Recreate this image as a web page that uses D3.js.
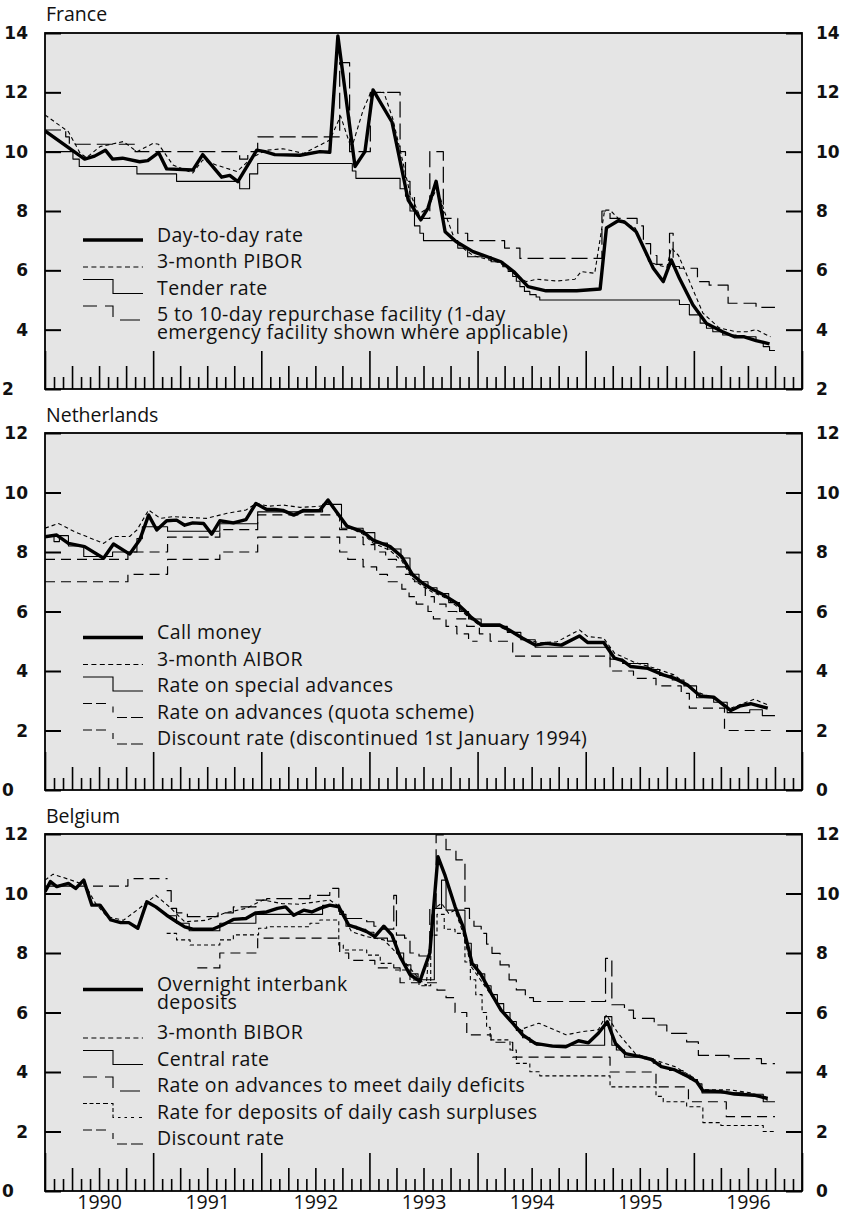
<!DOCTYPE html>
<html><head><meta charset="utf-8">
<script src="https://cdn.jsdelivr.net/npm/d3@7"></script>
<style>
body{margin:0;background:#fff;}
svg{display:block;}
text{font-family:"Open Sans",Lato,sans-serif;fill:#111;}
.tick-lab{font-family:"DejaVu Sans",sans-serif;font-weight:bold;}
.leg{letter-spacing:0.4px;}
</style>
</head><body>
<svg id="c" width="846" height="1219"></svg>
<script>
// ---------- DATA (month index from Jan 1990, value in %) ----------
const yearLabels = ["1990","1991","1992","1993","1994","1995","1996"];
const frYTicks = [2,4,6,8,10,12,14];
const nlYTicks = [0,2,4,6,8,10,12];
const beYTicks = [0,2,4,6,8,10,12];

// France
const frDay = [[0,10.7],[4.4,9.75],[5.5,9.85],[6.7,10.05],[7.5,9.75],[8.6,9.78],[10.5,9.66],[11.4,9.7],[12.6,9.97],[13.5,9.42],[16.4,9.38],[17.5,9.9],[19.6,9.14],[20.5,9.2],[21.4,8.99],[23.5,10.05],[24.4,10.0],[25.5,9.9],[28.3,9.88],[30.5,10.0],[31.6,9.98],[32.5,13.9],[34.4,9.5],[35.5,10.0],[36.4,12.08],[38.5,11.0],[40.3,8.37],[41.7,7.7],[42.5,8.1],[43.4,9.0],[44.4,7.3],[45.6,6.97],[47.5,6.63],[50.6,6.29],[52,5.96],[53.6,5.45],[55.6,5.31],[59,5.31],[61.6,5.37],[62.3,7.43],[63.6,7.67],[64.3,7.63],[65.6,7.3],[67.5,6.07],[68.6,5.62],[69.5,6.35],[70.4,5.73],[71.9,4.83],[73.4,4.21],[75.2,3.93],[76.5,3.76],[77.6,3.76],[78.9,3.63],[80.4,3.52]];
const frPibor = [[0,11.24],[2.6,10.67],[3.9,9.95],[4.6,9.8],[6.1,10.17],[8.7,10.34],[10.2,10.0],[12,10.28],[12.6,10.25],[14.2,9.55],[16.4,9.28],[17.5,9.72],[19,9.55],[21.3,9.33],[23.1,9.83],[24.6,10.05],[26.4,10.1],[28.7,9.94],[31.6,10.39],[32.8,11.2],[34.0,10.1],[35.3,11.4],[36.1,11.97],[37.6,12.0],[38.6,11.1],[39.6,9.8],[40.5,8.6],[41.5,7.9],[42.5,8.1],[43.5,8.8],[44.3,8.0],[45.6,6.92],[47.5,6.5],[50.5,6.25],[52,5.9],[53.4,5.62],[54.6,5.7],[56.8,5.64],[58.8,5.7],[59.5,5.96],[61,5.9],[62.1,8.03],[62.7,8.03],[64,7.63],[65.5,7.43],[67,6.3],[67.9,6.19],[69,6.1],[69.5,6.75],[70.3,6.5],[71.6,5.57],[73,4.56],[74.8,4.06],[76.7,3.93],[77.9,3.93],[78.9,4.0],[80.5,3.76]];
const frTender = [[0,10.0],[3.1,9.75],[3.8,9.5],[10.2,9.25],[14.6,9.0],[21.6,8.75],[22.7,9.25],[23.6,9.6],[34.1,9.35],[34.5,9.1],[39.4,8.75],[40.0,8.5],[40.5,8.0],[41.0,7.5],[41.6,7.25],[42.0,7.0],[45.8,6.75],[46.9,6.46],[49.5,6.29],[50.8,6.12],[51.4,5.96],[51.9,5.79],[52.3,5.63],[52.7,5.45],[53.2,5.29],[53.8,5.18],[54.5,5.1],[54.9,5.0],[70.4,4.85],[71.5,4.5],[72.7,4.22],[73.4,4.05],[74.1,3.93],[75.2,3.82],[76.7,3.76],[78.9,3.6],[79.7,3.43],[80.4,3.3],[81,3.3]];
const frRepo = [[0,10.73],[2.3,10.5],[2.7,10.25],[10.0,10.0],[21.6,9.75],[22.5,10.0],[23.6,10.5],[32.7,13.0],[33.8,10.0],[36.1,12.0],[39.4,10.0],[40.0,9.0],[40.5,8.5],[41.0,8.0],[41.5,7.75],[42.7,10.0],[44.2,7.75],[45.8,7.25],[46.9,7.0],[51.0,6.75],[52.7,6.4],[61.8,8.0],[62.7,7.75],[65.7,7.5],[66.4,6.9],[67.2,6.5],[67.9,6.2],[69.3,7.25],[69.7,6.13],[70.4,6.07],[72.4,5.62],[73.7,5.5],[75.8,4.89],[78.9,4.75],[81,4.75]];

// Netherlands
const nlCall = [[0,8.51],[1.3,8.57],[2.6,8.29],[4.4,8.18],[6.5,7.79],[7.6,8.27],[9.4,7.93],[10.5,8.4],[11.5,9.24],[12.4,8.74],[13.5,9.05],[14.6,9.07],[15.5,8.9],[16.4,8.98],[17.6,8.96],[18.5,8.6],[19.4,9.05],[20.9,8.98],[22.3,9.09],[23.4,9.63],[24.6,9.43],[25.5,9.43],[26.4,9.4],[27.6,9.24],[28.7,9.4],[29.6,9.39],[30.5,9.4],[31.4,9.75],[32.6,9.24],[33.5,8.87],[35.3,8.68],[36.4,8.4],[38.3,8.18],[39.6,7.84],[40.8,7.23],[41.9,6.95],[43,6.75],[44,6.6],[45.6,6.3],[46.5,6.05],[47.3,5.8],[48.4,5.55],[50.4,5.55],[51.5,5.38],[53,5.1],[54.4,4.87],[55.6,4.93],[57.3,4.87],[59.3,5.18],[60.2,4.96],[62,4.96],[63.2,4.43],[64.1,4.35],[65,4.15],[66.9,4.09],[68.6,3.87],[69.8,3.76],[71.3,3.53],[72.7,3.16],[74.2,3.12],[76.1,2.67],[77.2,2.83],[78.3,2.9],[80.2,2.75]];
const nlAibor = [[0,8.8],[1.5,8.96],[3.3,8.68],[6.5,8.29],[7.6,8.52],[9.4,8.52],[10.2,8.74],[11.5,9.41],[12.8,9.13],[14.2,9.19],[17.9,9.13],[20.2,9.3],[22.3,9.41],[23.4,9.63],[24.9,9.54],[26.4,9.58],[28.3,9.5],[30.5,9.54],[31.6,9.63],[32.6,9.2],[33.5,8.85],[35.3,8.6],[36.4,8.3],[38.3,8.05],[39.6,7.7],[40.8,7.1],[41.9,6.85],[43,6.65],[44.5,6.45],[45.6,6.2],[47,5.8],[48.4,5.5],[50.4,5.5],[52,5.25],[53.5,5.05],[54.8,4.95],[56.8,4.98],[59.3,5.38],[60.2,5.16],[62,5.1],[63.2,4.6],[65.4,4.29],[67.6,4.1],[69.8,3.87],[72.3,3.3],[74.2,3.08],[76.1,2.75],[78.7,3.05],[80.2,2.86]];
const nlSpecial = [[0,8.55],[1.0,8.35],[1.6,8.55],[2.6,8.2],[4.3,7.85],[7.5,8.0],[10.2,8.45],[10.8,8.85],[13.6,8.7],[19.4,8.95],[23.6,9.35],[30.8,9.6],[32.9,8.8],[35.3,8.65],[36.6,8.3],[38.0,8.1],[39.5,7.8],[40.5,7.25],[41.5,7.0],[42.5,6.8],[43.5,6.6],[44.8,6.3],[46.0,6.0],[47.0,5.75],[48.4,5.5],[51.3,5.3],[52.8,5.05],[54.4,4.8],[62.7,4.4],[64.1,4.25],[66.9,4.05],[68.2,3.85],[69.6,3.7],[70.9,3.5],[72.3,3.1],[74.2,2.95],[75.7,2.6],[78.2,2.7],[79.6,2.5],[81,2.5]];
const nlQuota = [[0,7.75],[9.2,8.0],[13.6,8.5],[19.4,8.75],[23.6,9.25],[32.7,8.75],[33.5,8.5],[35.3,8.25],[36.6,8.0],[37.8,7.75],[39.0,7.5],[40.0,7.25],[41.0,7.0],[42.2,6.5],[43.2,6.25],[44.5,6.0],[45.7,5.75],[46.8,5.5],[48.2,5.25],[49.4,5.0],[51.9,4.5],[62.7,4.0],[65.3,3.75],[67.8,3.5],[70.6,3.25],[71.5,2.75],[75.4,2.0],[81,2.0]];
const nlDiscount = [[0,7.0],[9.2,7.25],[13.6,7.75],[19.4,8.0],[23.6,8.5],[32.7,8.0],[33.6,7.75],[35.3,7.5],[36.8,7.25],[38.0,7.0],[39.6,6.75],[40.4,6.5],[41.2,6.25],[42.5,6.0],[43.1,5.75],[44.5,5.5],[45.7,5.25],[47.0,5.0],[48.0,5.0]];

// Belgium
const beOvernight = [[0,10.06],[0.6,10.4],[1.3,10.23],[2.6,10.34],[3.4,10.17],[4.3,10.45],[5.2,9.61],[6.1,9.61],[7.3,9.11],[8.4,9.02],[9.3,9.02],[10.3,8.83],[11.3,9.72],[12.3,9.55],[13.5,9.27],[14.6,9.05],[15.5,8.88],[16.4,8.8],[18.6,8.8],[19.7,8.94],[20.9,9.13],[22.3,9.16],[23.4,9.35],[24.6,9.38],[25.8,9.5],[26.7,9.55],[27.6,9.27],[28.7,9.44],[29.6,9.38],[30.5,9.5],[31.6,9.61],[32.6,9.55],[33.7,8.94],[34.8,8.83],[35.7,8.72],[36.6,8.55],[37.6,8.9],[38.5,8.6],[39.4,7.88],[40.5,7.27],[41.6,7.05],[42.0,7.4],[42.7,8.0],[43.6,11.24],[44.4,10.6],[45.5,9.56],[46.4,8.88],[47.4,7.65],[48.3,7.32],[49.5,6.65],[50.6,6.08],[51.9,5.64],[53,5.25],[54.4,4.96],[56.3,4.87],[57.8,4.85],[59.2,5.05],[60.3,4.98],[61.4,5.3],[62.4,5.69],[63.3,4.96],[64.4,4.62],[66.2,4.51],[67.3,4.42],[68.4,4.18],[69.9,4.07],[71.4,3.84],[72.3,3.68],[73,3.37],[75,3.34],[76.5,3.26],[78.7,3.22],[80.2,3.11]];
const beBibor = [[0,10.45],[0.9,10.65],[2.4,10.5],[4.5,10.28],[5.6,9.67],[6.9,9.22],[8.7,9.1],[10.2,9.44],[12.3,9.94],[13.8,9.55],[15.5,9.05],[17.9,9.1],[20,9.35],[22.3,9.5],[24.2,9.78],[26.3,9.66],[28.2,9.64],[31.6,9.78],[32.5,9.6],[34,8.72],[35.7,8.55],[37.6,8.44],[39.4,7.88],[41.6,7.1],[42.3,6.9],[43,9.45],[44,9.67],[44.8,9.33],[45.5,9.44],[46.4,8.66],[47.3,7.54],[49.1,6.76],[50.6,6.1],[52.7,5.42],[54.8,5.64],[57.8,5.25],[59.7,5.36],[61.4,5.42],[62.3,5.92],[63.6,5.3],[65.5,4.62],[67.7,4.4],[69.9,4.18],[72.1,3.79],[73.1,3.4],[76,3.4],[78.3,3.3],[80.2,3.05]];
const beCentral = [[13.5,9.25],[14.6,9.0],[16.0,8.75],[19.4,9.0],[23.4,9.3],[30.8,9.6],[32.7,9.3],[33.4,8.9],[34.6,8.8],[35.6,8.7],[36.5,8.5],[38.0,8.4],[39.0,8.0],[39.8,7.6],[40.6,7.3],[41.4,7.1],[43.2,9.5],[44.0,10.45],[44.5,9.44],[46.6,8.33],[47.3,7.6],[48.0,7.3],[48.8,6.9],[49.5,6.6],[50.2,6.3],[50.9,6.0],[51.6,5.7],[52.3,5.4],[53.0,5.15],[53.8,5.0],[54.5,4.9],[62.1,5.86],[62.9,4.9],[63.4,4.74],[64.3,4.5],[66.5,4.45],[67.5,4.3],[68.3,4.15],[69.3,4.05],[70.8,3.9],[71.6,3.75],[72.4,3.6],[72.9,3.3],[77.5,3.25],[79.7,3.0],[81,3.0]];
const beAdvances = [[13.5,10.1],[14.0,9.5],[14.6,9.35],[15.8,9.22],[19.2,9.35],[20.9,9.55],[23.4,9.78],[24.6,9.83],[29.4,9.94],[31.6,10.17],[32.6,9.4],[33.1,9.16],[35.7,9.05],[36.5,8.9],[37.5,8.8],[38.7,9.94],[39.0,8.6],[39.9,8.5],[40.5,8.0],[41.5,7.9],[42.7,9.5],[43.4,11.97],[44.5,11.47],[45.6,11.13],[46.6,9.5],[47.1,9.16],[47.6,8.9],[48.4,8.66],[49.0,8.3],[49.6,7.99],[50.5,7.6],[51.5,7.1],[52.3,6.76],[53.3,6.5],[54.2,6.37],[62.2,7.82],[62.9,6.26],[64.3,6.08],[65.3,5.8],[67.6,5.58],[69.0,5.3],[71.2,5.01],[72.5,4.56],[75.9,4.45],[79.5,4.28],[81,4.28]];
const beDeposits = [[13.5,8.66],[14.6,8.44],[16.1,8.27],[19.4,8.44],[20.9,8.61],[23.7,8.83],[24.6,8.88],[29.4,9.0],[30.5,9.11],[32.6,8.27],[33.1,8.1],[35.7,7.93],[37.2,7.65],[38.7,7.43],[40.5,7.09],[41.5,6.9],[42.8,8.6],[43.5,9.3],[44.3,8.8],[45.5,8.66],[46.6,7.7],[47.2,7.1],[47.8,6.6],[48.5,6.0],[49.0,5.5],[49.4,5.08],[51.6,4.74],[52.3,4.29],[53.8,4.01],[54.9,3.87],[62.7,3.5],[67.8,3.18],[68.6,3.0],[71.2,2.83],[73.0,2.3],[75.0,2.2],[79.7,2.0],[81,2.0]];
const beDiscount = [[0,10.25],[9.2,10.5],[13.6,10.5],[13.6,null],[16.9,7.5],[19.4,8.0],[23.6,8.5],[32.7,8.0],[33.7,7.75],[36.6,7.5],[39.4,7.0],[43.5,6.75],[44.5,6.5],[45.5,6.0],[46.8,5.25],[49.5,5.0],[51.9,4.5],[62.7,4.0],[67.8,3.5],[71.4,3.0],[75.6,2.5],[81,2.5]];

// ---------- STYLES ----------
const STY = {
  thick: {w:3.4, dash:null, curve:d3.curveLinear},
  fine:  {w:1.1, dash:"4,3", curve:d3.curveLinear},
  solidStep: {w:1.1, dash:null, curve:d3.curveStepAfter},
  longStep: {w:1.2, dash:"16,6", curve:d3.curveStepAfter},
  medStep: {w:1.2, dash:"10,6", curve:d3.curveStepAfter},
  shortStep: {w:1.1, dash:"4,3", curve:d3.curveStepAfter}
};

const panels = [
  {title:"France", titleY:21, top:33, bottom:389, dom:[2,14], ticks:frYTicks,
   series:[[frRepo,"longStep"],[frTender,"solidStep"],[frPibor,"fine"],[frDay,"thick"]],
   legend:[
     {sty:"thick", lines:["Day-to-day rate"], b:241.5},
     {sty:"fine", lines:["3-month PIBOR"], b:268},
     {sty:"solidStep", lines:["Tender rate"], b:294.5},
     {sty:"longStep", lines:["5 to 10-day repurchase facility (1-day","emergency facility shown where applicable)"], b:321}
   ]},
  {title:"Netherlands", titleY:422, top:433, bottom:790, dom:[0,12], ticks:nlYTicks,
   series:[[nlDiscount,"medStep"],[nlQuota,"medStep"],[nlSpecial,"solidStep"],[nlAibor,"fine"],[nlCall,"thick"]],
   legend:[
     {sty:"thick", lines:["Call money"], b:639},
     {sty:"fine", lines:["3-month AIBOR"], b:665.5},
     {sty:"solidStep", lines:["Rate on special advances"], b:692},
     {sty:"medStep", lines:["Rate on advances (quota scheme)"], b:718.5},
     {sty:"medStep", lines:["Discount rate (discontinued 1st January 1994)"], b:745}
   ]},
  {title:"Belgium", titleY:823, top:834, bottom:1191, dom:[0,12], ticks:beYTicks,
   series:[[beDiscount,"medStep"],[beDeposits,"shortStep"],[beAdvances,"longStep"],[beCentral,"solidStep"],[beBibor,"fine"],[beOvernight,"thick"]],
   legend:[
     {sty:"thick", lines:["Overnight interbank","deposits"], b:991},
     {sty:"fine", lines:["3-month BIBOR"], b:1039},
     {sty:"solidStep", lines:["Central rate"], b:1065.5},
     {sty:"longStep", lines:["Rate on advances to meet daily deficits"], b:1092},
     {sty:"shortStep", lines:["Rate for deposits of daily cash surpluses"], b:1118.5},
     {sty:"medStep", lines:["Discount rate"], b:1145}
   ]}
];

const L = 45, R = 802;
const svg = d3.select("#c");
const x = d3.scaleLinear().domain([0,84]).range([L,R]);
const monthTicks = d3.range(0,85);

panels.forEach((p,pi)=>{
  const y = d3.scaleLinear().domain(p.dom).range([p.bottom,p.top]);
  const g = svg.append("g");
  const clipId = "clip"+pi;
  svg.append("clipPath").attr("id",clipId).append("rect")
    .attr("x",L).attr("y",p.top).attr("width",R-L).attr("height",p.bottom-p.top);
  g.append("rect").attr("x",L).attr("y",p.top).attr("width",R-L).attr("height",p.bottom-p.top)
    .attr("fill","#e5e5e5");

  // title
  g.append("text").attr("x",46).attr("y",p.titleY).attr("font-size",19.5).text(p.title);

  // series
  const sg = g.append("g").attr("clip-path",`url(#${clipId})`);
  p.series.forEach(([data,sname])=>{
    const s = STY[sname];
    const line = d3.line().defined(d=>d[1]!==null).x(d=>x(d[0])).y(d=>y(d[1])).curve(s.curve);
    sg.append("path").datum(data).attr("d",line).attr("fill","none")
      .attr("stroke","#000").attr("stroke-width",s.w)
      .attr("stroke-dasharray",s.dash).attr("stroke-linejoin","round");
  });

  // legend
  const lg = g.append("g");
  p.legend.forEach(e=>{
    const b = e.b;
    const x0=83, x1=143, xm=113;
    if(e.sty==="thick"){
      lg.append("line").attr("x1",x0).attr("x2",x1).attr("y1",b-1.5).attr("y2",b-1.5).attr("stroke","#000").attr("stroke-width",3.4);
    } else if(e.sty==="fine"){
      lg.append("line").attr("x1",x0).attr("x2",x1).attr("y1",b-1).attr("y2",b-1).attr("stroke","#000").attr("stroke-width",1.1).attr("stroke-dasharray","5,3.4");
    } else {
      const dashes = {solidStep:null, longStep:"14,8,19,10,20", medStep:"9,4,10,10,6,9,10,4,12", shortStep:"4,2.5,4,2.5,4,3,5,3,4,2.5,4,2.5,4"}[e.sty];
      lg.append("path").attr("d",`M${x0},${b-15}H${xm}V${b-1}H${x1}`).attr("fill","none")
        .attr("stroke","#000").attr("stroke-width",1.1).attr("stroke-dasharray",dashes);
    }
    const t = lg.append("text").attr("class","leg").attr("x",157).attr("y",b).attr("font-size",19.5);
    e.lines.forEach((s,i)=>{
      t.append("tspan").attr("x",157).attr("dy", i===0 ? 0 : 17.5).text(s);
    });
  });

  // y ticks (inside, both sides)
  const yl = d3.axisLeft(y).tickValues(p.ticks).tickSize(-16).tickFormat("");
  const yr = d3.axisRight(y).tickValues(p.ticks).tickSize(-16).tickFormat("");
  const gl = g.append("g").attr("transform",`translate(${L},0)`).call(yl);
  const gr = g.append("g").attr("transform",`translate(${R},0)`).call(yr);
  [gl,gr].forEach(a=>{a.select(".domain").remove(); a.selectAll("line").attr("stroke","#000").attr("stroke-width",2);});
  // tick labels
  p.ticks.forEach((v,i)=>{
    const isBottom = i===0;
    g.append("text").attr("class","tick-lab").attr("x",isBottom?2:28).attr("y",y(v)).attr("dy","0.36em")
      .attr("text-anchor",isBottom?"start":"end").attr("font-size",17).text(v);
    g.append("text").attr("class","tick-lab").attr("x",816).attr("y",y(v)).attr("dy","0.36em")
      .attr("text-anchor","start").attr("font-size",17).text(v);
  });

  // x ticks: months, quarters, years (inside, from bottom)
  const xa = d3.axisBottom(x).tickValues(monthTicks).tickFormat("").tickSize(0);
  const gx = g.append("g").attr("transform",`translate(0,${p.bottom})`).call(xa);
  gx.select(".domain").remove();
  gx.selectAll(".tick line").attr("stroke","#000").attr("stroke-width",1.6)
    .attr("y2",d=> d%12===0 ? -38 : (d%3===0 ? -23 : -12));

  // frame
  g.append("rect").attr("x",L).attr("y",p.top).attr("width",R-L).attr("height",p.bottom-p.top)
    .attr("fill","none").attr("stroke","#000").attr("stroke-width",1.8);
});

// year labels under bottom panel
const last = panels[2];
const xYears = d3.axisBottom(x).tickValues(yearLabels.map((d,i)=>6+12*i)).tickSize(0)
  .tickFormat((d,i)=>yearLabels[i]);
const gy = svg.append("g").attr("transform",`translate(0,${last.bottom})`).call(xYears);
gy.select(".domain").remove();
gy.selectAll("text").attr("font-size",19.5).attr("font-family","'Open Sans', sans-serif").attr("fill","#111").attr("dy",0).attr("y",18);
</script>
</body></html>
